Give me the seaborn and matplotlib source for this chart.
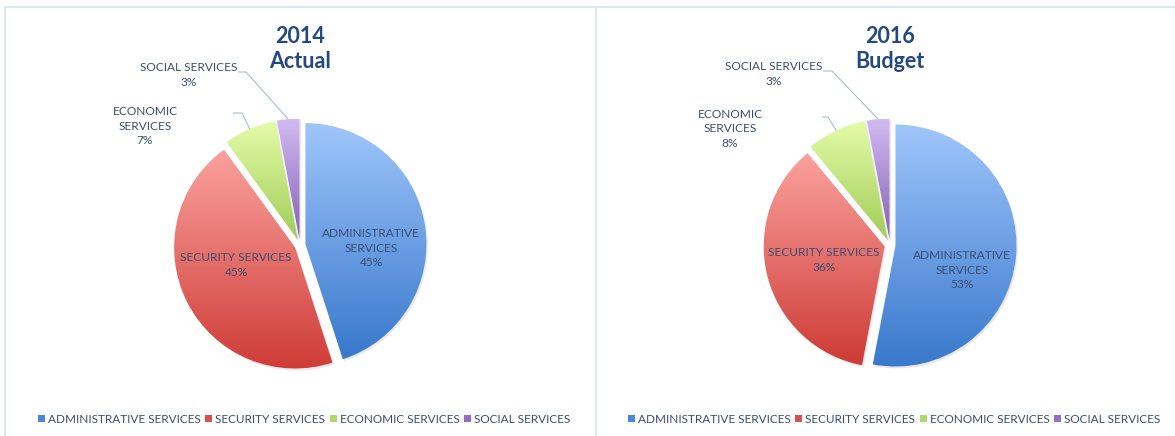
import numpy as np
import matplotlib
matplotlib.use("Agg")
import matplotlib.pyplot as plt
import seaborn as sns
from matplotlib.colors import LinearSegmentedColormap
from matplotlib.patches import Patch, Wedge
from matplotlib.lines import Line2D

# ---- data -------------------------------------------------------------
categories = ["ADMINISTRATIVE SERVICES", "SECURITY SERVICES",
              "ECONOMIC SERVICES", "SOCIAL SERVICES"]
slice_labels = ["ADMINISTRATIVE\nSERVICES", "SECURITY SERVICES",
                "ECONOMIC\nSERVICES", "SOCIAL SERVICES"]
share_2014 = [45, 45, 7, 3]
share_2016 = [53, 36, 8, 3]
chart_titles = ["2014\nActual", "2016\nBudget"]

# ---- style ------------------------------------------------------------
top_colors = ["#9fc6fb", "#fba29e", "#e3fca8", "#d2bbf1"]
bottom_colors = ["#3978cc", "#ce3b36", "#a2cc58", "#8560b4"]
legend_colors = ["#4d88d8", "#d9514c", "#b0d86c", "#9170c2"]
title_color = "#23497e"
text_color = "#3a4e72"
leader_color = "#a9bcd8"
frame_color = "#dbe5f3"

sns.set_theme(style="white")
plt.rcParams["font.family"] = ["Lato", "DejaVu Sans"]

W, H, DPI = 1175, 436, 100
fig = plt.figure(figsize=(W / DPI, H / DPI), dpi=DPI)
fig.patch.set_facecolor("white")
ax = fig.add_axes([0, 0, 1, 1])


def py(y):
    """Pixel row (from top) to axis y (from bottom)."""
    return H - y


# layout for each panel: pie centre, inside-label centres, outside labels
panels = [
    dict(values=share_2014, title=chart_titles[0], cx=300, cy=245,
         title_xy=(300, 49), legend_xy=(304, 419),
         inside={0: (371, 248), 1: (236, 265)},
         outside={2: (145, 126), 3: (189, 75)},
         leader={2: (233, 242, 113), 3: (238, 246, 72)}),
    dict(values=share_2016, title=chart_titles[1], cx=890, cy=245,
         title_xy=(890, 49), legend_xy=(894, 419),
         inside={0: (962, 270), 1: (824, 260)},
         outside={2: (730, 129), 3: (774, 74)},
         leader={2: (822, 828, 117), 3: (823, 832, 71)}),
]

RADIUS = 121
EXPLODE = 5.5
grad = np.linspace(0, 1, 256).reshape(-1, 1)

for p in panels:
    vals = p["values"]
    cx, cy = p["cx"], py(p["cy"])
    wedges, _ = ax.pie(vals, center=(cx, cy), radius=RADIUS, startangle=90,
                       counterclock=False, explode=[EXPLODE] * len(vals),
                       wedgeprops=dict(linewidth=0, facecolor="none"),
                       frame=True)
    for i, w in enumerate(wedges):
        # soft drop shadow
        sh = Wedge((w.center[0] + 1.5, w.center[1] - 2), w.r, w.theta1, w.theta2,
                   facecolor="#7f7f7f", alpha=0.16, linewidth=0, zorder=1)
        ax.add_patch(sh)
        w.set_zorder(3)
        verts = w.get_path().vertices
        x0, y0 = verts.min(axis=0)
        x1, y1 = verts.max(axis=0)
        cmap = LinearSegmentedColormap.from_list(
            f"g{i}", [top_colors[i], bottom_colors[i]])
        im = ax.imshow(grad, cmap=cmap, extent=(x0, x1, y0, y1),
                       origin="upper", aspect="auto", zorder=2,
                       interpolation="bilinear")
        im.set_clip_path(w)

    total = float(sum(vals))
    # labels inside the large slices
    for i, (lx, ly) in p["inside"].items():
        ax.text(lx, py(ly), f"{slice_labels[i]}\n{vals[i] / total:.0%}",
                ha="center", va="center", fontsize=8.6, color=text_color,
                linespacing=1.42, zorder=5)
    # labels outside the small slices, with leader lines
    for i, (lx, ly) in p["outside"].items():
        ax.text(lx, py(ly), f"{slice_labels[i]}\n{vals[i] / total:.0%}",
                ha="center", va="center", fontsize=8.6, color=text_color,
                linespacing=1.42, zorder=5)
        w = wedges[i]
        mid = np.deg2rad(0.5 * (w.theta1 + w.theta2))
        ax_x = w.center[0] + w.r * np.cos(mid)
        ax_y = w.center[1] + w.r * np.sin(mid)
        sx, ex, ry = p["leader"][i]
        ax.plot([sx, ex, ax_x], [py(ry), py(ry), ax_y], color=leader_color,
                lw=0.8, zorder=4, solid_capstyle="butt")

    tx, ty = p["title_xy"]
    ax.text(tx, py(ty), p["title"], ha="center", va="center", fontsize=15.5,
            fontweight="bold", color=title_color, linespacing=1.25)

    handles = [Patch(facecolor=c, edgecolor="none") for c in legend_colors]
    lx, ly = p["legend_xy"]
    fig.legend(handles, categories, loc="center",
               bbox_to_anchor=(lx / W, py(ly) / H), ncol=4, frameon=False,
               handlelength=0.6, handleheight=0.6, handletextpad=0.25,
               columnspacing=0.4, fontsize=8.45, labelcolor=text_color,
               borderaxespad=0, borderpad=0)

ax.set_xlim(0, W)
ax.set_ylim(0, H)
ax.set_aspect("auto")
ax.axis("off")

# panel frames
for xs, ys in [((5, W), (7, 7)), ((5, 5), (7, H)), ((596, 596), (7, H))]:
    fig.add_artist(Line2D([x / W for x in xs], [py(y) / H for y in ys],
                          color=frame_color, lw=1.3))

fig.savefig("out.png", dpi=DPI, facecolor="white")
